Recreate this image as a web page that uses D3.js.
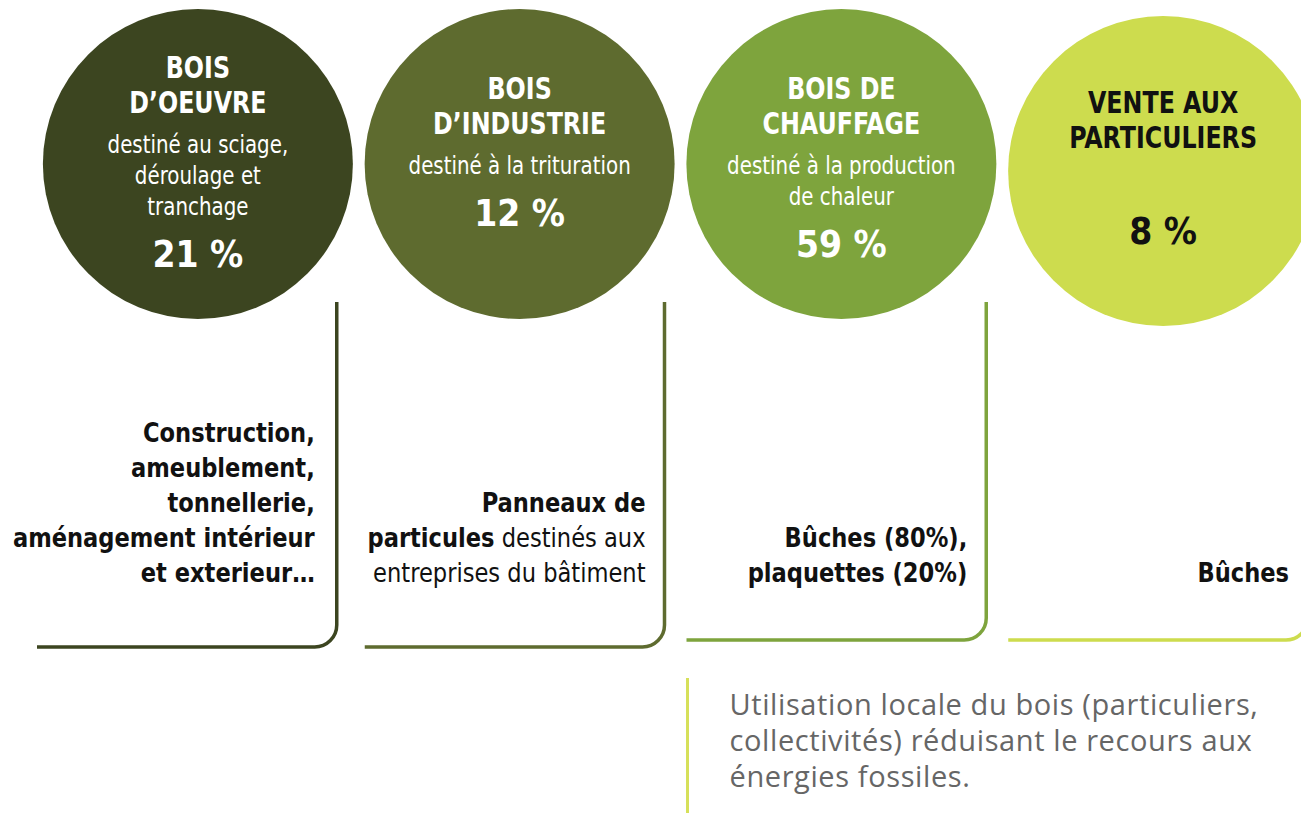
<!DOCTYPE html>
<html>
<head>
<meta charset="utf-8">
<script src="https://cdn.jsdelivr.net/npm/d3@7"></script>
<style>
  html, body { margin: 0; padding: 0; background: #fff; }
  svg { display: block; }
  .cond { font-family: "DejaVu Sans Condensed", "DejaVu Sans", sans-serif; }
  .note { font-family: "Open Sans", "Lato", sans-serif; }
</style>
</head>
<body>
<div id="chart"></div>
<script>
// DATA
const categories = ["Bois d’oeuvre", "Bois d’industrie", "Bois de chauffage", "Vente aux particuliers"];
const titleLines = [["BOIS", "D’OEUVRE"], ["BOIS", "D’INDUSTRIE"], ["BOIS DE", "CHAUFFAGE"], ["VENTE AUX", "PARTICULIERS"]];
const subtitleLines = [["destiné au sciage,", "déroulage et", "tranchage"], ["destiné à la trituration"], ["destiné à la production", "de chaleur"], []];
const shares = [21, 12, 59, 8];
// **...** marks bold runs
const uses = [
  ["**Construction,**", "**ameublement,**", "**tonnellerie,**", "**aménagement intérieur**", "**et exterieur…**"],
  ["**Panneaux de**", "**particules** destinés aux", "entreprises du bâtiment"],
  ["**Bûches (80%),**", "**plaquettes (20%)**"],
  ["**Bûches**"]
];
const noteLines = ["Utilisation locale du bois (particuliers,", "collectivités) réduisant le recours aux", "énergies fossiles."];

const palette = ["#3c4520", "#5e6b2f", "#7ea43d", "#cddc4e"];
const textColors = ["#fff", "#fff", "#fff", "#111"];

// CHART
const svgWidth = 1301, svgHeight = 813;
const svg = d3.select("#chart").append("svg")
  .attr("width", svgWidth)
  .attr("height", svgHeight);

const x = d3.scaleBand().domain(categories).range([37, 1324]);
const color = d3.scaleOrdinal(categories, palette);
const ink = d3.scaleOrdinal(categories, textColors);

const radius = 155;
const cy = (d, i) => i === 3 ? 171 : 164;
const cx = d => x(d) + x.bandwidth() / 2;
// small vertical nudges so every text block sits like in the original layout
const textShift = [8, -2, 14, 7];
// the condensed face is still a bit wide: squeeze horizontally
const squeeze = {title: 0.88, sub: 0.92, pct: 0.97};

const groups = svg.selectAll("g.cat")
  .data(categories)
  .enter()
  .append("g")
  .attr("class", "cat");

// Circles
groups.append("circle")
  .attr("cx", cx)
  .attr("cy", cy)
  .attr("r", radius)
  .attr("fill", d => color(d));

// Circle texts
groups.each(function(d, i) {
  const titles = titleLines[i], subs = subtitleLines[i];
  const rows = [];
  let y = 0;
  titles.forEach((t, k) => { if (k > 0) y += 35; rows.push({t, y, kind: "title"}); });
  subs.forEach((t, k) => { y += (k === 0 ? 40 : 31); rows.push({t, y, kind: "sub"}); });
  y += subs.length ? 52 : 96;
  rows.push({t: shares[i] + " %", y, kind: "pct"});
  const top = cy(d, i) - y / 2 + textShift[i];

  d3.select(this).selectAll("g.in")
    .data(rows)
    .enter()
    .append("g")
    .attr("class", "in")
    .attr("transform", r => `translate(${cx(d)},${top + r.y}) scale(${squeeze[r.kind]},1)`)
    .append("text")
    .attr("class", "cond")
    .attr("text-anchor", "middle")
    .attr("fill", ink(d))
    .attr("font-size", r => r.kind === "title" ? 30 : r.kind === "sub" ? 24 : 38)
    .attr("font-weight", r => r.kind === "sub" ? 400 : 700)
    .text(r => r.t);
});

// Brackets
const cornerR = 22, bracketTop = 302;
const bracketBottom = i => i < 2 ? 647 : 640;
groups.append("path")
  .attr("d", (d, i) => {
    const left = x(d) + (i === 0 ? 0 : 6), right = x(d) + x.bandwidth() - (i === 0 ? 22 : 16);
    const b = bracketBottom(i);
    return `M${right},${bracketTop} L${right},${b - cornerR} ` +
      `A${cornerR},${cornerR} 0 0 1 ${right - cornerR},${b} L${left},${b}`;
  })
  .attr("fill", "none")
  .attr("stroke", d => color(d))
  .attr("stroke-width", 3.5);

// Uses text, right aligned, bottom aligned
const useLineH = 35, useBottom = 582;
groups.each(function(d, i) {
  const lines = uses[i];
  const right = x(d) + x.bandwidth() - (i === 0 ? 44 : 35);
  const text = d3.select(this).append("g")
    .attr("transform", `translate(${right},0) scale(0.93,1)`)
    .append("text")
    .attr("class", "cond")
    .attr("text-anchor", "end")
    .attr("font-size", 27)
    .attr("fill", "#111");
  lines.forEach((line, k) => {
    const tl = text.append("tspan")
      .attr("x", 0)
      .attr("y", useBottom - (lines.length - 1 - k) * useLineH);
    line.split(/(\*\*[^*]+\*\*)/).filter(s => s.length).forEach(seg => {
      const bold = seg.startsWith("**");
      tl.append("tspan")
        .attr("font-weight", bold ? 700 : 400)
        .text(bold ? seg.slice(2, -2) : seg);
    });
  });
});

// Note about local use (under "Bois de chauffage")
const noteX = x(categories[2]) + 7;
svg.append("line")
  .attr("x1", noteX).attr("x2", noteX)
  .attr("y1", 678).attr("y2", 813)
  .attr("stroke", "#d6e05a")
  .attr("stroke-width", 3);

svg.append("text")
  .attr("class", "note")
  .attr("font-size", 29)
  .attr("letter-spacing", 0.6)
  .attr("fill", "#666")
  .selectAll("tspan")
  .data(noteLines)
  .enter()
  .append("tspan")
  .attr("x", noteX + 42)
  .attr("y", (d, i) => 715 + i * 36)
  .text(d => d);
</script>
</body>
</html>
